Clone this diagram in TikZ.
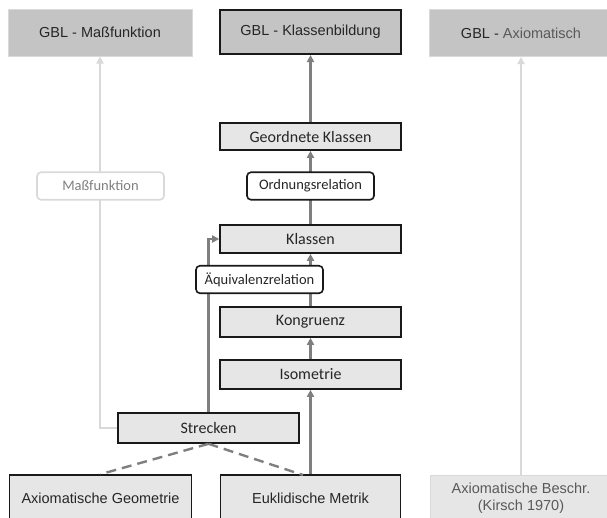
\documentclass[tikz,border=0pt]{standalone}
\usepackage{fontspec}
\setmainfont{Liberation Sans}
\newfontfamily\calibfont{Carlito}
\usepackage{xcolor}
\usetikzlibrary{arrows.meta, positioning}
\definecolor{boxgray}{HTML}{E6E6E6}
\definecolor{topgray}{HTML}{C4C4C4}
\definecolor{lightline}{HTML}{D9D9D9}
\definecolor{darkline}{HTML}{7F7F7F}
\definecolor{textgray}{HTML}{595959}
\definecolor{softtext}{HTML}{808080}

\begin{document}
\begin{tikzpicture}[
  x=1pt, y=-1pt,
  font=\fontsize{14.5}{17}\selectfont,
  topbox/.style={
    fill=topgray,
    draw=lightline,
    line width=1pt,
    minimum width=184pt,
    minimum height=47pt,
    inner sep=0pt,
    text=black!85
  },
  mainbox/.style={
    fill=boxgray,
    draw=black!90,
    line width=1.6pt,
    minimum width=181pt,
    minimum height=29pt,
    inner sep=0pt,
    text=black!85,
    font=\calibfont\fontsize{16}{19}\selectfont
  },
  basebox/.style={
    fill=boxgray,
    draw=black!90,
    line width=1.6pt,
    minimum width=182pt,
    minimum height=47pt,
    inner sep=0pt,
    align=center,
    text=black!85
  },
  relbox/.style={
    fill=white,
    draw=black!90,
    line width=1.6pt,
    rounded corners=4pt,
    minimum width=127pt,
    minimum height=27.5pt,
    inner sep=0pt,
    text=black!85,
    font=\calibfont\fontsize{14.5}{17}\selectfont
  },
  arrow/.style={
    draw=darkline,
    line width=2.4pt,
    -{Triangle[length=7pt,width=7pt]}
  },
  faintarrow/.style={
    draw=lightline,
    line width=2.4pt,
    -{Triangle[length=7pt,width=7pt]}
  },
  dashline/.style={
    draw=darkline,
    line width=2.4pt,
    dash pattern=on 10pt off 6pt
  }
]
\useasboundingbox (0,0) rectangle (607,517);

% Top row
\node[topbox] (gblmass) at (100,32.5) {GBL - Maßfunktion};
\node[topbox, draw=black!90, line width=2pt, minimum width=181pt, minimum height=44pt] (gblklass) at (310.5,32)
{GBL - Klassenbildung};
\node[topbox, text=textgray] (gblaxiom) at (521,33) {\textcolor{black!85}{GBL -} Axiomatisch};

% Middle column
\node[mainbox, minimum height=27pt] (geordnet) at (310.5,136.5) {Geordnete Klassen};
\node[mainbox, minimum height=28pt] (klassen) at (310.5,239) {Klassen};
\node[mainbox, minimum height=30pt] (kongruenz) at (310.5,322) {Kongruenz};
\node[mainbox] (isometrie) at (310.5,374.5) {Isometrie};
\node[mainbox, minimum height=30pt] (strecken) at (208.5,428) {Strecken};

% Bottom row
\node[basebox] (axgeo) at (100.5,498.5) {Axiomatische Geometrie};
\node[basebox, minimum width=180pt] (euklid) at (310.5,498.5) {Euklidische Metrik};
\node[basebox, fill=boxgray, draw=lightline, line width=1pt, text=textgray,
  font=\fontsize{14.5}{17}\selectfont] (axbeschr) at (521,498.5)
{Axiomatische Beschr.\\(Kirsch 1970)};
\coordinate (euklidtop) at (303,475);

% Arrows
\draw[arrow] (euklid.north) -- (isometrie.south);
\draw[arrow] (isometrie) -- (kongruenz);
\draw[arrow] (kongruenz) -- (klassen);
\draw[arrow] (klassen) -- (geordnet);
\draw[arrow] (geordnet) -- (gblklass);
\draw[arrow] (strecken.north) |- (klassen.west);
\draw[faintarrow] (strecken.west) -| (gblmass.south);
\draw[faintarrow] (axbeschr.north) -- (gblaxiom.south);

% Dashed links
\draw[dashline] (strecken.south) -- (axgeo.north);
\draw[dashline] (strecken.south) -- (euklidtop);

% Relation labels
\node[relbox] (ordnung) at (310.5,186) {Ordnungsrelation};
\node[relbox] (aequiv) at (259.5,279.5) {Äquivalenzrelation};
\node[relbox, draw=lightline, text=softtext] (massf) at (100.5,186) {Maßfunktion};

\end{tikzpicture}
\end{document}
